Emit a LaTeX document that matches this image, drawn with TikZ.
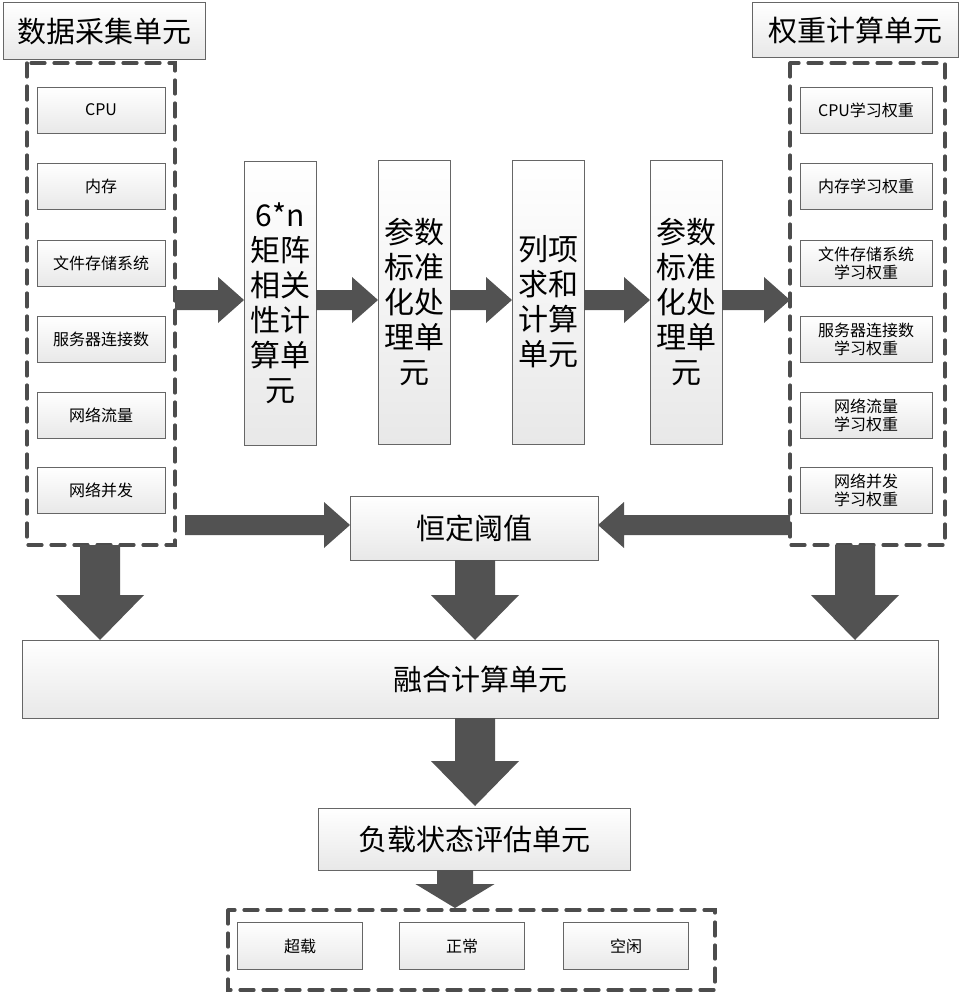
\documentclass[tikz,border=0pt]{standalone}
\usepackage{fontspec}
\setmainfont{Noto Sans CJK SC}
\begin{document}
\begin{tikzpicture}[x=1pt,y=-1pt,
 box/.style={draw=gray!80!black,line width=0.8pt,top color=white,bottom color=gray!18,inner sep=0pt},
 dashbox/.style={draw=black!70,line width=3.2pt,dash pattern=on 14pt off 9pt,line cap=round}]
\useasboundingbox (0,0) rectangle (961,1000);
\newcommand\rarr[3]{\fill[black!68] (#1,#3-10)--(#2-26,#3-10)--(#2-26,#3-23)--(#2,#3)--(#2-26,#3+23)--(#2-26,#3+10)--(#1,#3+10)--cycle;}
\newcommand\larr[3]{\fill[black!68] (#1,#3-10)--(#2+26,#3-10)--(#2+26,#3-23)--(#2,#3)--(#2+26,#3+23)--(#2+26,#3+10)--(#1,#3+10)--cycle;}
\newcommand\darr[5]{\fill[black!68] (#1-#4,#2)--(#1+#4,#2)--(#1+#4,#3-#5)--(#1+2.2*#4,#3-#5)--(#1,#3)--(#1-2.2*#4,#3-#5)--(#1-#4,#3-#5)--cycle;}
% titles
\node[box,minimum width=202,minimum height=57,font=\fontsize{29}{29}\selectfont] (t1) at (104,31) {数据采集单元};
\node[box,minimum width=206,minimum height=55,font=\fontsize{29}{29}\selectfont] (t2) at (855,30) {权重计算单元};
\draw[dashbox] (27,63) rectangle (175,545);
\draw[dashbox] (790,63) rectangle (945,545);
\foreach \n/\y/\t in {a/110/CPU,b/186/内存,c/263/文件存储系统,d/339/服务器连接数,e/415/网络流量,f/490/网络并发}
 \node[box,minimum width=128,minimum height=46,font=\fontsize{16}{16}\selectfont] (l\n) at (101,\y) {\t};
\foreach \n/\y/\t in {a/110/CPU学习权重,b/186/内存学习权重,c/263/文件存储系统\\学习权重,d/339/服务器连接数\\学习权重,e/415/网络流量\\学习权重,f/490/网络并发\\学习权重}
 \node[box,minimum width=132,minimum height=46,align=center,font=\fontsize{16}{18}\selectfont] (r\n) at (866,\y) {\t};
% vertical boxes
\tikzset{vb/.style={box,minimum width=72,minimum height=284,align=center,font=\fontsize{30}{35}\selectfont}}
\node[vb] (v1) at (280,303) {6*n\\矩阵\\相关\\性计\\算单\\元};
\node[vb] (v2) at (414,302) {参数\\标准\\化处\\理单\\元};
\node[vb] (v3) at (548,302) {列项\\求和\\计算\\单元};
\node[vb] (v4) at (686,302) {参数\\标准\\化处\\理单\\元};
\rarr{175}{244}{300}\rarr{316}{378}{300}\rarr{450}{512}{300}\rarr{584}{650}{300}\rarr{722}{790}{300}
\node[box,minimum width=248,minimum height=64,font=\fontsize{29}{29}\selectfont] (th) at (474,528) {恒定阈值};
\rarr{185}{350}{525}\larr{790}{598}{525}
\node[box,minimum width=916,minimum height=78,font=\fontsize{29}{29}\selectfont] (fu) at (480,679) {融合计算单元};
\darr{100}{545}{640}{20}{45}
\darr{475}{560}{640}{20}{45}
\darr{855}{545}{640}{20}{45}
\darr{475}{718}{806}{20}{45}
\node[box,minimum width=312,minimum height=62,font=\fontsize{29}{29}\selectfont] (ev) at (474,839) {负载状态评估单元};
\darr{455}{870}{908}{18}{24}
\draw[dashbox] (228,910) rectangle (715,990);
\foreach \n/\x/\t in {a/300/超载,b/462/正常,c/626/空闲}
 \node[box,minimum width=125,minimum height=47,font=\fontsize{16}{16}\selectfont] (s\n) at (\x,946) {\t};
\end{tikzpicture}
\end{document}
